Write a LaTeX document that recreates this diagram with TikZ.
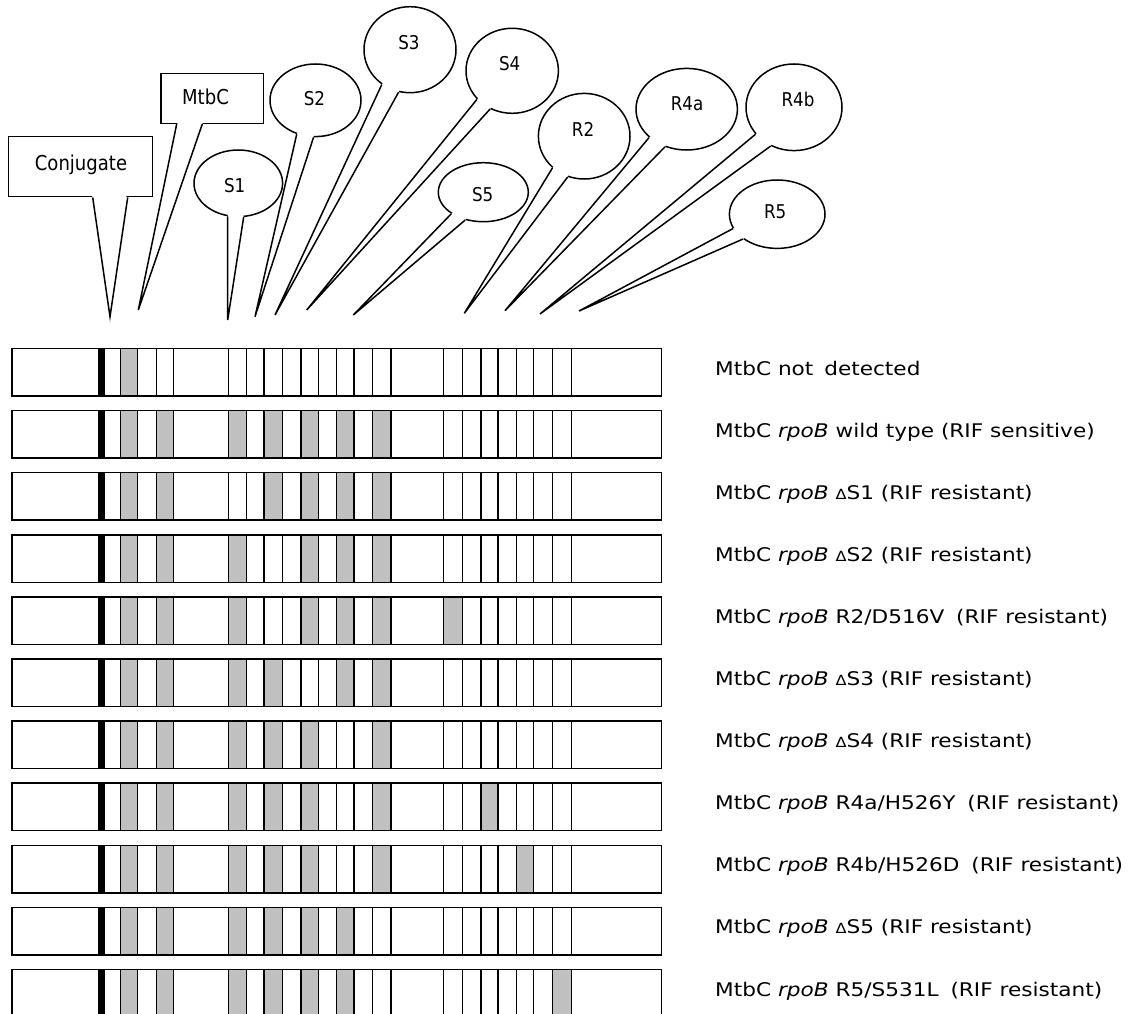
\documentclass[tikz,border=0pt]{standalone}
\usepackage{fontspec}
\setmainfont{DejaVu Sans}
\newfontfamily\lblfont{DejaVu Sans}[FakeStretch=1.15]
\newfontfamily\calfont{DejaVu Sans}[FakeStretch=0.88]
\usetikzlibrary{shapes.geometric,calc}
\definecolor{bandgray}{RGB}{192,192,192}

% one strip: #1 = top y, #2 = list of grey cells l/r
\newcommand\lpastrip[2]{%
  \fill[black] (98.3,#1) rectangle (105,#1+47.5);
  \foreach \ga/\gb in {#2} {\fill[bandgray] (\ga,#1) rectangle (\gb,#1+47.5);}
  \foreach \gx in {120.7,137.7,156.7,173.3,228.3,246.7,264,282.7,301,318.3,336.7,354,372.7,391,443.3,462.7,481,498,516.7,533.7,552.7,571.3}
    {\draw[ln] (\gx,#1) -- (\gx,#1+47.5);}
  \draw[ln] (12,#1) rectangle (661.7,#1+47.5);
}
% callout wedge: #1 node, #2 base point 1, #3 base point 2, #4 tip
\newcommand\calwedge[4]{%
  \fill[white] (#2) -- (#4) -- (#3) -- ($(#3)!3pt!(#1.center)$) -- ($(#2)!3pt!(#1.center)$) -- cycle;
  \draw[ln] (#2) -- (#4) -- (#3);
}
\newcommand\dlt{{\lblfont\fontsize{14}{15}\selectfont Δ}}

\begin{document}
\begin{tikzpicture}[x=1pt,y=-1pt,
  ln/.style={line width=1.5pt},
  bub/.style={ellipse,draw,fill=white,line width=1.5pt,inner sep=0pt},
  rbox/.style={rectangle,draw,fill=white,line width=1.5pt,inner sep=0pt},
  ctext/.style={anchor=base,inner sep=0pt,font=\calfont\fontsize{19}{21}\selectfont},
  rtext/.style={anchor=base,inner sep=0pt,font=\calfont\fontsize{20.5}{22}\selectfont},
  lbl/.style={anchor=base west,inner sep=0pt,font=\lblfont\fontsize{18.8}{22}\selectfont},
]
\clip (0,0) rectangle (1132,1014);

% ---------- rectangular callouts ----------
\node[rbox,minimum width=144.4pt,minimum height=60pt] (conj) at (80.5,166.7) {};
\coordinate (conjtip) at (110,316.7);
\coordinate (conjp1) at ([xshift=12.2pt]conj.south);
\coordinate (conjp2) at ([xshift=47.2pt]conj.south);
\calwedge{conj}{conjp1}{conjp2}{conjtip}
\node[rtext] (conjt) at (81,170) {Conjugate};

\node[rbox,minimum width=102.3pt,minimum height=50pt] (mtbc) at (212.2,98.3) {};
\coordinate (mtbctip) at (138.3,310);
\coordinate (mtbcp1) at ([xshift=-35.5pt]mtbc.south);
\coordinate (mtbcp2) at ([xshift=-9.9pt]mtbc.south);
\calwedge{mtbc}{mtbcp1}{mtbcp2}{mtbctip}
\node[rtext] (mtbct) at (205.5,105) {MtbC};

% ---------- elliptical callouts ----------
\foreach \nm/\cx/\cy/\w/\h/\aa/\ab/\tx/\ty/\txt/\bx/\by in {
  s1/238.3/183.3/88.6/66.6/-108.5/-81/227.7/320/S1/234.7/192.4,
  s2/315.5/100.3/91/72.6/-119.7/-93.5/255/316.7/S2/314.5/105.9,
  s3/410/49.7/92/86/-129.1/-105.9/275/315/S3/409/50,
  s4/512.2/70.8/92.4/85/-141.5/-120.6/306.7/310/S4/509.7/70.5,
  s5/483.3/192.2/90/59/-146.8/-123.4/353.3/315/S5/482.7/201.7,
  r2/584.2/136.2/91.6/85.6/-135.4/-112.7/464.3/313.3/R2/583/136,
  r4a/686.7/109.2/101.4/81.6/-143.2/-120.7/505/310.7/R4a/687/110.5,
  r4b/794/107.3/96/86.6/-145.4/-121.3/540/314/R4b/798/106.7,
  r5/777.2/214.2/95.6/68.4/-162.9/-144.6/579/311/R5/775.2/218.3}
{
  \node[bub,minimum width=\w pt,minimum height=\h pt] (\nm) at (\cx,\cy) {};
  \coordinate (\nm tip) at (\tx,\ty);
  \coordinate (\nm p1) at (\nm.\aa);
  \coordinate (\nm p2) at (\nm.\ab);
  \calwedge{\nm}{\nm p1}{\nm p2}{\nm tip}
  \node[ctext] (\nm t) at (\bx,\by) {\txt};
}

% ---------- strips ----------
\lpastrip{348.5}{120.7/137.7}
\lpastrip{410.6}{120.7/137.7,156.7/173.3,228.3/246.7,264/282.7,301/318.3,336.7/354,372.7/391}
\lpastrip{472.7}{120.7/137.7,156.7/173.3,264/282.7,301/318.3,336.7/354,372.7/391}
\lpastrip{534.8}{120.7/137.7,156.7/173.3,228.3/246.7,301/318.3,336.7/354,372.7/391}
\lpastrip{596.9}{120.7/137.7,156.7/173.3,228.3/246.7,301/318.3,336.7/354,372.7/391,443.3/462.7}
\lpastrip{659.0}{120.7/137.7,156.7/173.3,228.3/246.7,264/282.7,336.7/354,372.7/391}
\lpastrip{721.1}{120.7/137.7,156.7/173.3,228.3/246.7,264/282.7,301/318.3,372.7/391}
\lpastrip{783.2}{120.7/137.7,156.7/173.3,228.3/246.7,264/282.7,301/318.3,372.7/391,481/498}
\lpastrip{845.3}{120.7/137.7,156.7/173.3,228.3/246.7,264/282.7,301/318.3,372.7/391,516.7/533.7}
\lpastrip{907.4}{120.7/137.7,156.7/173.3,228.3/246.7,264/282.7,301/318.3,336.7/354}
\lpastrip{969.5}{120.7/137.7,156.7/173.3,228.3/246.7,264/282.7,301/318.3,336.7/354,552.7/571.3}

% ---------- labels ----------
\node[lbl] (lab0) at (715,375.0) {MtbC not\hspace{4pt} detected};
\node[lbl] (lab1) at (715,437.1) {MtbC \textit{rpoB} wild type (RIF sensitive)};
\node[lbl] (lab2) at (715,499.2) {MtbC \textit{rpoB} \dlt S1 (RIF resistant)};
\node[lbl] (lab3) at (715,561.3) {MtbC \textit{rpoB} \dlt S2 (RIF resistant)};
\node[lbl] (lab4) at (715,623.4) {MtbC \textit{rpoB} R2/D516V\hspace{5pt} (RIF resistant)};
\node[lbl] (lab5) at (715,685.5) {MtbC \textit{rpoB} \dlt S3 (RIF resistant)};
\node[lbl] (lab6) at (715,747.6) {MtbC \textit{rpoB} \dlt S4 (RIF resistant)};
\node[lbl] (lab7) at (715,809.7) {MtbC \textit{rpoB} R4a/H526Y\hspace{5pt} (RIF resistant)};
\node[lbl] (lab8) at (715,871.8) {MtbC \textit{rpoB} R4b/H526D\hspace{5pt} (RIF resistant)};
\node[lbl] (lab9) at (715,933.9) {MtbC \textit{rpoB} \dlt S5 (RIF resistant)};
\node[lbl] (lab10) at (715,996.0) {MtbC \textit{rpoB} R5/S531L\hspace{5pt} (RIF resistant)};
\end{tikzpicture}
\end{document}
